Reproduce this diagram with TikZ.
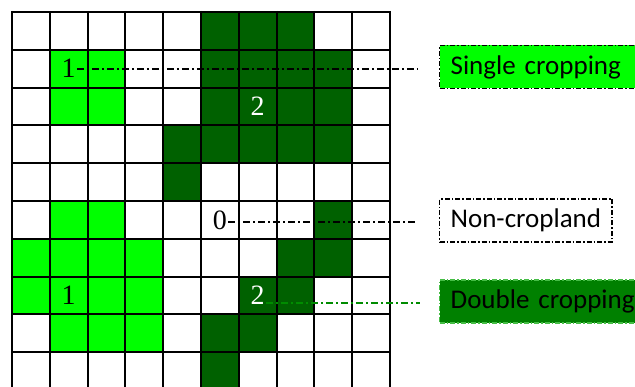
\documentclass[tikz,border=0pt]{standalone}
\usepackage{fontspec}
\setmainfont{Liberation Serif}
\newfontfamily\legendfont{Carlito}
\definecolor{litegreen}{RGB}{0,255,0}
\definecolor{deepgreen}{RGB}{0,97,0}
\definecolor{dcgreen}{RGB}{0,128,0}
\definecolor{dcborder}{RGB}{70,190,70}
\definecolor{connGreen}{RGB}{0,140,0}
\tikzset{
  darkcell/.style={fill=deepgreen},
  litecell/.style={fill=litegreen},
  gridline/.style={line width=2pt,black},
  num/.style={font=\fontsize{28}{30}\selectfont, inner sep=1pt},
  conn/.style={line width=1.4pt, dash pattern=on 7pt off 3pt on 2pt off 3pt},
  legbox/.style={font=\legendfont\fontsize{27}{30}\selectfont, anchor=west,
     minimum height=43pt, inner ysep=0pt, inner xsep=11pt, line width=1.3pt,
     dash pattern=on 5pt off 2pt on 1.5pt off 2pt}
}
\begin{document}
\begin{tikzpicture}[x=1pt,y=-1pt]
\useasboundingbox (0,0) rectangle (635,387);
\clip (0,0) rectangle (635,387);
\fill[white] (0,0) rectangle (635,387);
% dark green cells
\foreach \c/\r in {6/1,7/1,8/1, 6/2,7/2,8/2,9/2, 6/3,7/3,8/3,9/3, 5/4,6/4,7/4,8/4,9/4, 5/5, 9/6, 8/7,9/7, 7/8,8/8, 6/9,7/9, 6/10}
  \fill[darkcell] ({12+37.8*(\c-1)},{12+37.8*(\r-1)}) rectangle ++(37.8,37.8);
% light green cells
\foreach \c/\r in {2/2,3/2, 2/3,3/3, 2/6,3/6, 1/7,2/7,3/7,4/7, 1/8,2/8,3/8,4/8, 2/9,3/9,4/9}
  \fill[litecell] ({12+37.8*(\c-1)},{12+37.8*(\r-1)}) rectangle ++(37.8,37.8);
% grid
\foreach \i in {0,...,10} {
  \draw[gridline] ({12+37.8*\i},11) -- ({12+37.8*\i},391);
  \draw[gridline] (11,{12+37.8*\i}) -- (391,{12+37.8*\i});
}
% labels
\node[num] (oneA) at (68.7,68.7) {1};
\node[num, text=white] (twoA) at (257.7,106.5) {2};
\node[num] (zero) at (219.9,220.5) {0};
\node[num, text=white] (twoB) at (257.7,295.5) {2};
\node[num] (oneB) at (68.7,295.5) {1};
% legend boxes
\node[legbox, draw=black, fill=litegreen, text width=190pt, align=left] (single) at (439,67) {Single cropping};
\node[legbox, draw=black, fill=white] (noncrop) at (439,220.5) {Non-cropland};
\node[legbox, draw=dcborder, fill=dcgreen, text width=190pt, align=left] (double) at (439,301.5) {Double cropping};
% connectors
\coordinate (e1) at (418,69);
\coordinate (e2) at (417,222);
\coordinate (e3) at (420,303);
\draw[conn] (oneA.east |- e1) -- (e1);
\draw[conn] (zero.east |- e2) -- (e2);
\draw[conn, draw=connGreen] (twoB.east |- e3) -- (e3);
\end{tikzpicture}
\end{document}
